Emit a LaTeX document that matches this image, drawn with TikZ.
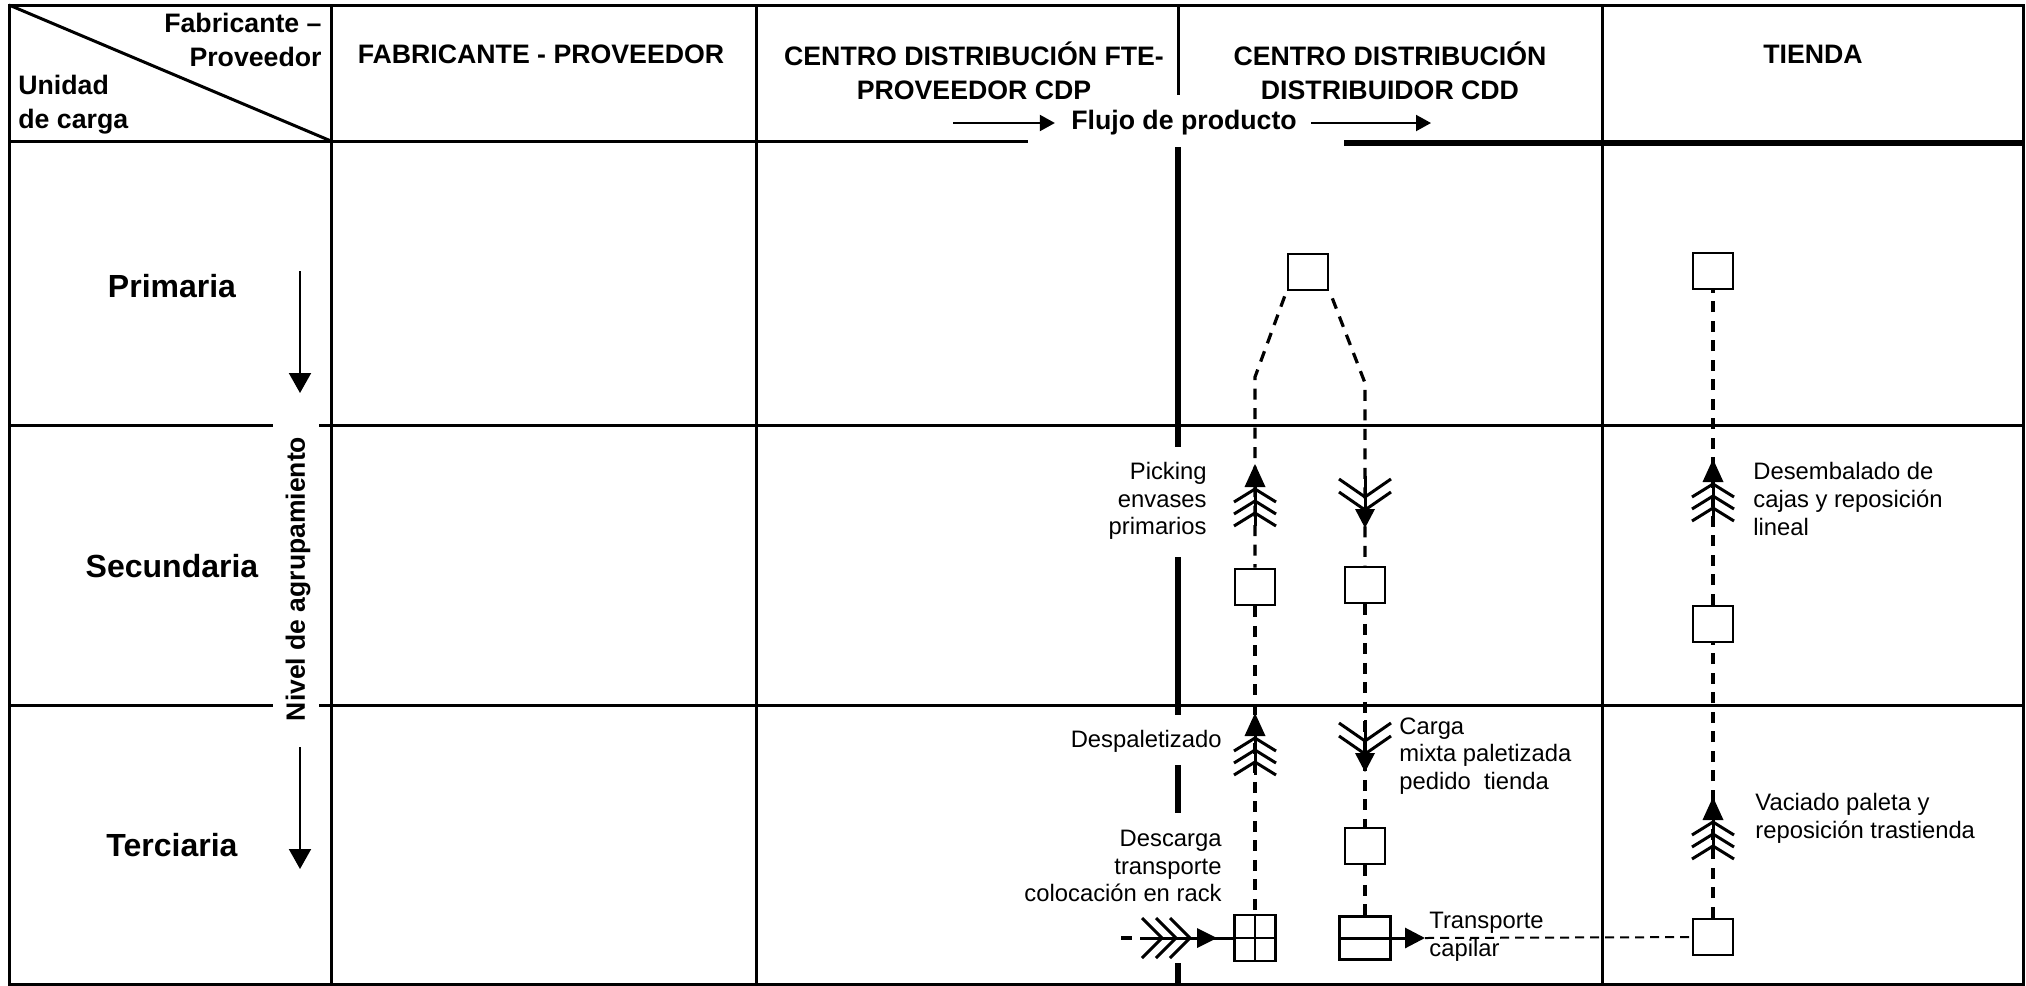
\documentclass[tikz,border=0pt]{standalone}
\usepackage{fontspec}
\setmainfont{Liberation Sans}
\usetikzlibrary{arrows.meta}

\tikzset{
  frame/.style={line width=1.5pt},
  thickrule/.style={line width=2.8pt},
  unitbox/.style={draw, line width=1.35pt, inner sep=0pt, minimum width=20pt, minimum height=18pt},
  flowdash/.style={line width=1.6pt, dash pattern=on 5.5pt off 4.25pt},
  thindash/.style={line width=1pt, dash pattern=on 4.5pt off 3pt},
  solidshaft/.style={line width=1.5pt},
  head/.style={font=\bfseries\fontsize{13.35pt}{17pt}\selectfont, align=center, inner sep=0pt},
  rowlabel/.style={font=\bfseries\fontsize{16pt}{19pt}\selectfont, inner sep=0pt},
  note/.style={font=\fontsize{11.9pt}{13.9pt}\selectfont, inner sep=0pt},
  thinarrow/.style={line width=1pt, -{Triangle[width=8pt,length=7.5pt]}},
  levelarrow/.style={line width=1pt, -{Triangle[width=11pt,length=10pt]}},
  % feathered arrow pointing up, origin at the tip
  featherup/.pic={
    \draw[line width=1.5pt] (0,10) -- (0,62);
    \fill (0,0) -- (-10.5,23) -- (10.5,23) -- cycle;
    \foreach \a in {25,37,49}
      \draw[line width=1.5pt] (-21,\a+13) -- (0,\a) -- (21,\a+13);
  },
  % feathered arrow pointing down, origin at the tip
  featherdown/.pic={
    \draw[line width=1.5pt] (0,-52) -- (0,-10);
    \fill (0,0) -- (-10,-19) -- (10,-19) -- cycle;
    \foreach \a in {-18,-31}
      \draw[line width=1.5pt] (-26,\a-18) -- (0,\a) -- (26,\a-18);
  },
  % feathered arrow pointing right, origin at the tip
  featherright/.pic={
    \fill (0,0) -- (-20,-10) -- (-20,10) -- cycle;
    \foreach \a in {-27,-41,-55}
      \draw[line width=1.5pt] (\a-20,-20) -- (\a,0) -- (\a-20,20);
  }
}

\begin{document}
\begin{tikzpicture}[x=0.5pt, y=-0.5pt]
  \useasboundingbox (0,0) rectangle (2026,986);
  \fill[white] (0,0) rectangle (2026,986);

  % table frame and rules
  \draw[frame] (9,5) rectangle (2023,984);
  \draw[frame] (331,5) -- (331,984);
  \draw[frame] (756,5) -- (756,984);
  \draw[frame] (1602,5) -- (1602,984);
  \draw[frame] (1178,5) -- (1178,95);
  \draw[frame] (9,5) -- (331,141);
  \draw[frame] (9,141) -- (1028,141);
  \draw[thickrule] (1344,143) -- (2023,143);
  \draw[frame] (9,425) -- (273,425) (319,425) -- (2023,425);
  \draw[frame] (9,705) -- (273,705) (319,705) -- (2023,705);
  \draw[thickrule] (1178,147) -- (1178,447) (1178,557) -- (1178,715)
                   (1178,765) -- (1178,813) (1178,963) -- (1178,984);

  % header texts
  \node[head, anchor=east, align=right] (hprov) at (322,40) {Fabricante –\\Proveedor};
  \node[head, anchor=west, align=left] (hunid) at (18,105) {Unidad\\de carga};
  \node[head] (hfab) at (541,54) {FABRICANTE - PROVEEDOR};
  \node[head] (hcdp) at (974,71) {CENTRO DISTRIBUCIÓN FTE-\\PROVEEDOR CDP};
  \node[head] (hcdd) at (1390,71) {CENTRO DISTRIBUCIÓN\\DISTRIBUIDOR CDD};
  \node[head] (htienda) at (1813,54) {TIENDA};
  \node[head] (flujo) at (1184,123) {Flujo de producto};
  \coordinate (fa) at (953,123);
  \coordinate (fb) at (1431,123);
  \draw[thinarrow, shorten >=8pt] (fa) -- (flujo);
  \draw[thinarrow, shorten <=7pt] (flujo) -- (fb);

  % row labels
  \node[rowlabel] (rprim) at (172,286) {Primaria};
  \node[rowlabel] (rsec) at (172,566) {Secundaria};
  \node[rowlabel] (rter) at (172,845) {Terciaria};
  \node[font=\bfseries\fontsize{13.25pt}{15pt}\selectfont, rotate=90, inner sep=0pt] (nivel) at (298,579) {Nivel de agrupamiento};
  \coordinate (na) at (300,271);
  \coordinate (nb) at (300,393);
  \coordinate (nc) at (300,747);
  \coordinate (nd) at (300,869);
  \draw[levelarrow] (na) -- (nb);
  \draw[levelarrow] (nc) -- (nd);

  % unit load boxes
  \node[unitbox] (cddA) at (1308,272) {};
  \node[unitbox] (cddB) at (1255,587) {};
  \node[unitbox] (cddC) at (1365,585) {};
  \node[unitbox] (cddD) at (1365,846) {};
  \node[unitbox, minimum width=20.5pt, minimum height=23pt] (rack) at (1255,938) {};
  \draw[line width=1.35pt] (rack.north) -- (rack.south) (rack.west) -- (rack.east);
  \node[unitbox, minimum width=25.5pt, minimum height=21.5pt] (mixed) at (1365,938) {};
  \node[unitbox] (tA) at (1713,271) {};
  \node[unitbox] (tB) at (1713,624) {};
  \node[unitbox] (tC) at (1713,937) {};

  % product flow in the distributor centre
  \draw[flowdash] (cddA.south west) ++(-2,5) -- (1255,377) -- (cddB);
  \draw[flowdash] (cddA.south east) ++(3,7) -- (1365,383) -- (cddC);
  \draw[flowdash] (cddB) -- (rack);
  \draw[flowdash] (cddC) -- (cddD);
  \draw[flowdash] (cddD) -- (mixed);
  \coordinate (inD) at (1121,938);
  \coordinate (inS) at (1140,938);
  \draw[flowdash] (inD) -- (inS);
  \draw[solidshaft] (inS) -- (rack);
  \pic at (1217,938) {featherright};
  \pic at (1255,464) {featherup};
  \pic at (1365,528) {featherdown};
  \pic at (1255,713) {featherup};
  \pic at (1365,772) {featherdown};

  % transport to the store and store flow
  \coordinate (capTip) at (1425,938);
  \draw[solidshaft] (mixed.west) -- (mixed.east);
  \draw[solidshaft, -{Triangle[width=10pt,length=10pt]}] (mixed.east) -- (capTip);
  \draw[thindash] (capTip) -- (tC);
  \draw[flowdash] (tC) -- (tB);
  \draw[flowdash] (tB) -- (tA);
  \pic at (1713,459) {featherup};
  \pic at (1713,797) {featherup};

  % operation labels
  \node[note, anchor=east, align=right] (lpick) at (1207,501) {Picking\\envases\\primarios};
  \node[note, anchor=east] (ldesp) at (1222,741) {Despaletizado};
  \node[note, anchor=east, align=right] (ldesc) at (1222,866) {Descarga\\transporte\\colocación en rack};
  \node[note, anchor=west, align=left] (lcarga) at (1399,756) {Carga\\mixta paletizada\\pedido\ \ tienda};
  \node[note, anchor=west, align=left] (ltrans) at (1429,937) {Transporte\\capilar};
  \node[note, anchor=west, align=left] (ldesemb) at (1753,499) {Desembalado de\\cajas y reposición\\lineal};
  \node[note, anchor=west, align=left] (lvac) at (1755,818) {Vaciado paleta y\\reposición trastienda};
\end{tikzpicture}
\end{document}
